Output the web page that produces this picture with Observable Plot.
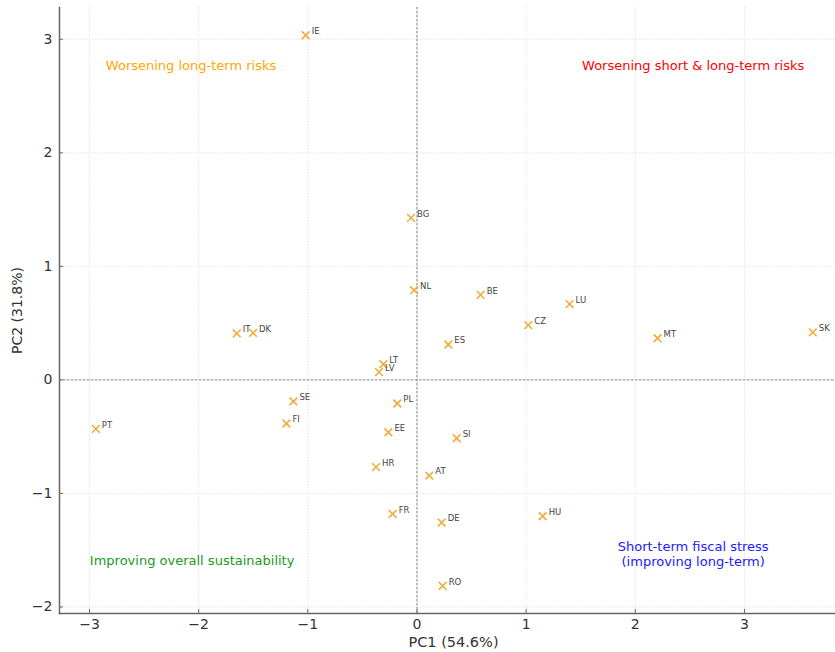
<!DOCTYPE html>
<html>
<head>
<meta charset="utf-8">
<script src="https://cdn.jsdelivr.net/npm/d3@7"></script>
<script src="https://cdn.jsdelivr.net/npm/@observablehq/plot@0.6"></script>
<style>
  html, body { margin: 0; padding: 0; background: #fff; }
  #chart svg { display: block; }
</style>
</head>
<body>
<div id="chart"></div>
<script>
const countries = ["IE","BG","NL","BE","LU","CZ","SK","MT","ES","IT","DK","LT","LV","PL","SE","FI","PT","EE","SI","HR","AT","HU","DE","FR","RO"];
const pc1 = [-1.02,-0.055,-0.027,0.583,1.398,1.02,3.626,2.204,0.287,-1.651,-1.502,-0.308,-0.348,-0.18,-1.132,-1.196,-2.942,-0.262,0.364,-0.375,0.113,1.151,0.226,-0.223,0.235];
const pc2 = [3.036,1.427,0.79,0.749,0.667,0.482,0.418,0.367,0.312,0.409,0.414,0.138,0.068,-0.208,-0.19,-0.384,-0.432,-0.461,-0.514,-0.769,-0.843,-1.201,-1.257,-1.181,-1.815];

const quadrantText = ["Worsening long-term risks","Worsening short & long-term risks","Improving overall sustainability","Short-term fiscal stress\n(improving long-term)"];
const quadrantX = [-2.07, 2.53, -2.06, 2.53];
const quadrantY = [2.77, 2.77, -1.59, -1.53];
const quadrantColor = ["#ffa500","#ff0000","#229922","#2020ff"];

const xTicks = [-3,-2,-1,0,1,2,3];
const yTicks = [-2,-1,0,1,2,3];
const xLabel = "PC1 (54.6%)";
const yLabel = "PC2 (31.8%)";

const points = countries.map((c, i) => ({country: c, pc1: pc1[i], pc2: pc2[i]}));
const quads = quadrantText.map((t, i) => ({text: t, x: quadrantX[i], y: quadrantY[i], color: quadrantColor[i]}));

const font = "DejaVu Sans, sans-serif";
const fmt = d3.format("d");

const chart = Plot.plot({
  width: 835,
  height: 652,
  marginLeft: 59,
  marginRight: 0,
  marginTop: 7,
  marginBottom: 39,
  style: {fontFamily: font, background: "#fff", fontSize: "13px", color: "#333"},
  x: {domain: [-3.275, 3.834]},
  y: {domain: [-2.058, 3.28]},
  marks: [
    Plot.gridX(xTicks, {stroke: "#ddd", strokeOpacity: 1, strokeDasharray: "1.5,1.5", strokeWidth: 0.8}),
    Plot.gridY(yTicks, {stroke: "#ddd", strokeOpacity: 1, strokeDasharray: "1.5,1.5", strokeWidth: 0.8}),
    Plot.ruleX([0], {stroke: "#888", strokeDasharray: "2.5,1.5", strokeWidth: 1}),
    Plot.ruleY([0], {stroke: "#888", strokeDasharray: "2.5,1.5", strokeWidth: 1}),
    Plot.frame({anchor: "left", stroke: "#666", strokeWidth: 1.5}),
    Plot.frame({anchor: "bottom", stroke: "#666", strokeWidth: 1.5}),
    Plot.axisX(xTicks, {tickSize: -4, tickPadding: 10, fontSize: 14, fill: "#333", stroke: "#666", tickFormat: fmt, label: null}),
    Plot.text([xLabel], {frameAnchor: "bottom", text: d => d, dy: 29, dx: 6, fontSize: 14.5, fill: "#333", lineAnchor: "middle"}),
    Plot.axisY(yTicks, {tickSize: -4, tickPadding: 11, fontSize: 14, fill: "#333", stroke: "#666", tickFormat: fmt,
      label: yLabel, labelAnchor: "center", labelArrow: "none", labelOffset: 47}),
    Plot.dot(points, {x: "pc1", y: "pc2", symbol: "times", r: 3.6, stroke: "#f0ac3a", strokeWidth: 1.6}),
    Plot.text(points, {x: "pc1", y: "pc2", text: "country", dx: 6, dy: -4, textAnchor: "start", fontSize: 8.5, fill: "#444"}),
    Plot.text(quads, {x: "x", y: "y", text: "text", fill: "color", fontSize: 13, textAnchor: "middle", lineHeight: 1.15})
  ]
});
document.getElementById("chart").appendChild(chart);
</script>
</body>
</html>
